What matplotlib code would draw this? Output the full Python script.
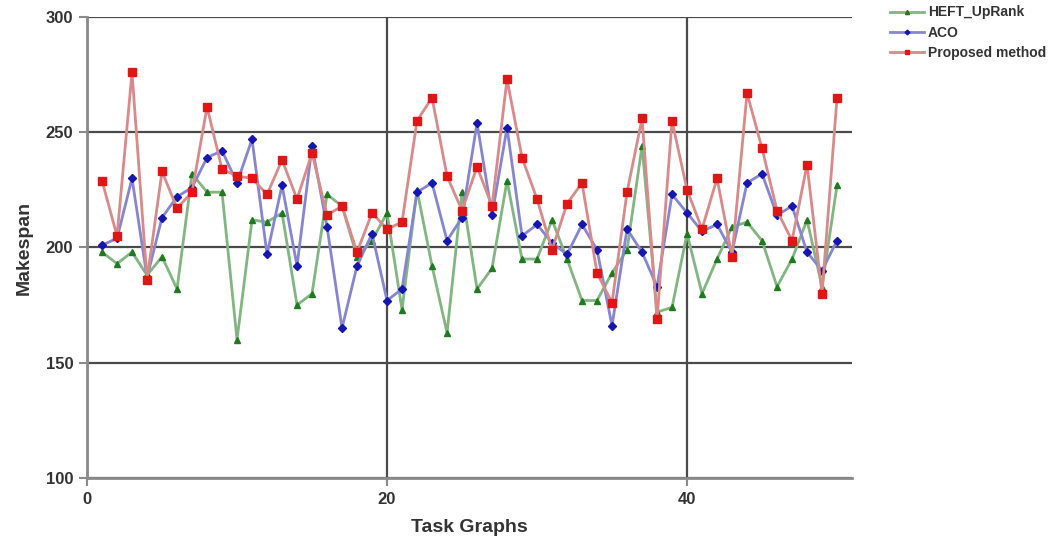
import matplotlib
matplotlib.use("Agg")
import matplotlib.pyplot as plt

plt.rcParams['font.family'] = ['Liberation Sans', 'DejaVu Sans']

# task graph index
task_graphs = list(range(1, 51))

heft_uprank = [198, 193, 198, 188, 196, 182, 232, 224, 224, 160,
               212, 211, 215, 175, 180, 223, 218, 196, 203, 215,
               173, 225, 192, 163, 224, 182, 191, 229, 195, 195,
               212, 195, 177, 177, 189, 199, 244, 172, 174, 206,
               180, 195, 209, 211, 203, 183, 195, 212, 183, 227]

aco = [201, 204, 230, 187, 213, 222, 226, 239, 242, 228,
       247, 197, 227, 192, 244, 209, 165, 192, 206, 177,
       182, 224, 228, 203, 213, 254, 214, 252, 205, 210,
       202, 197, 210, 199, 166, 208, 198, 183, 223, 215,
       207, 210, 198, 228, 232, 214, 218, 198, 190, 203]

proposed = [229, 205, 276, 186, 233, 217, 224, 261, 234, 231,
            230, 223, 238, 221, 241, 214, 218, 198, 215, 208,
            211, 255, 265, 231, 216, 235, 218, 273, 239, 221,
            199, 219, 228, 189, 176, 224, 256, 169, 255, 225,
            208, 230, 196, 267, 243, 216, 203, 236, 180, 265]

fig = plt.figure(figsize=(10.6, 5.43), dpi=100)
ax = fig.add_axes([0.0821, 0.1197, 0.7217, 0.849])

ax.plot(task_graphs, heft_uprank, color='#82b582', lw=2, marker='^', ms=5,
        mfc='#1f7a1f', mec='#1f7a1f', label='HEFT_UpRank', zorder=3)
ax.plot(task_graphs, aco, color='#8585d0', lw=2, marker='D', ms=4,
        mfc='#1515b0', mec='#1515b0', label='ACO', zorder=4)
ax.plot(task_graphs, proposed, color='#d88a8a', lw=2, marker='s', ms=6,
        mfc='#e01515', mec='#e01515', label='Proposed method', zorder=5)

ax.set_xlim(0, 51)
ax.set_ylim(100, 300)
ax.set_xticks([0, 20, 40])
ax.set_yticks([100, 150, 200, 250, 300])

ax.grid(True, color='#4a4a4a', lw=1.6)
ax.set_axisbelow(True)
for s in ['top', 'right']:
    ax.spines[s].set_visible(False)
for s in ['left', 'bottom']:
    ax.spines[s].set_color('#8a8a8a')
    ax.spines[s].set_linewidth(2)

ax.tick_params(length=6, width=1.5, color='#8a8a8a', labelsize=12,
               labelcolor='#333333', pad=4)
for lab in ax.get_xticklabels() + ax.get_yticklabels():
    lab.set_fontweight('bold')

ax.set_xlabel('Task Graphs', fontsize=14, fontweight='bold', color='#333333', labelpad=9)
ax.set_ylabel('Makespan', fontsize=14, fontweight='bold', color='#333333', labelpad=9)

leg = ax.legend(loc='upper left', bbox_to_anchor=(1.05, 1.025), frameon=False,
                borderaxespad=0, borderpad=0,
                prop={'size': 10, 'weight': 'bold'}, handlelength=2.4,
                labelspacing=0.45, handletextpad=0.3, markerscale=0.6)
for t in leg.get_texts():
    t.set_color('#333333')

fig.savefig('out.png', dpi=100)
